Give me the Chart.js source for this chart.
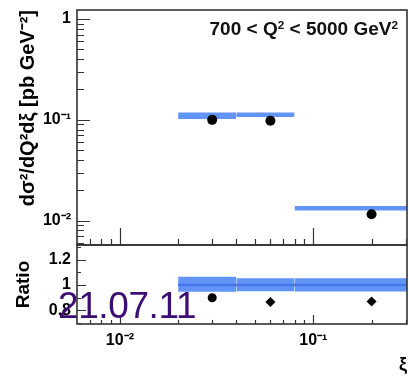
<!DOCTYPE html>
<html>
<head>
<meta charset="utf-8">
<script src="https://cdn.jsdelivr.net/npm/chart.js@4/dist/chart.umd.min.js"></script>
<style>
  html, body { margin: 0; padding: 0; background: #fff; }
  #wrap { position: relative; width: 409px; height: 376px; overflow: hidden; font-family: "Liberation Sans", Arial, sans-serif; }
  #c_top { position: absolute; left: 0; top: 0; width: 409px; height: 246px; }
  #c_ratio { position: absolute; left: 0; top: 244px; width: 409px; height: 132px; }
  .lbl { position: absolute; white-space: nowrap; line-height: 1; }
  .lbl sup { font-size: 0.62em; line-height: 0; vertical-align: 0.55em; }
  #q2_range { right: 11px; top: 19px; font-size: 19px; font-weight: bold; color: #111; }
  #stamp { left: 58px; top: 287px; font-size: 37px; letter-spacing: -0.4px; color: #3c0d73; }
</style>
</head>
<body>
<div id="wrap">
  <canvas id="c_top" width="409" height="246"></canvas>
  <canvas id="c_ratio" width="409" height="132"></canvas>
  <div class="lbl" id="q2_range">700 &lt; Q<sup>2</sup> &lt; 5000 GeV<sup>2</sup></div>
  <div class="lbl" id="stamp">21.07.11</div>
</div>
<script>
// xi bins
const xi_lo = [0.02, 0.04, 0.08];
const xi_hi = [0.04, 0.08, 0.305];
const xi_mid = [0.03, 0.06, 0.2];

// cross section: data points and theory band
const xsec_data = [0.1, 0.098, 0.0116];
const xsec_theo_lo = [0.102, 0.107, 0.0126];
const xsec_theo_hi = [0.118, 0.118, 0.0140];

// ratio panel
const ratio_data = [0.90, 0.867, 0.87];
const ratio_theo_lo = [0.947, 0.952, 0.95];
const ratio_theo_hi = [1.065, 1.053, 1.053];
const ratio_theo_mid = [1, 1, 1];

// tick labels
const x_ticks = [0.01, 0.1];
const x_tick_labels = ['10⁻²', '10⁻¹'];
const y_ticks = [0.01, 0.1, 1];
const y_tick_labels = ['10⁻²', '10⁻¹', '1'];
const r_ticks = [0.8, 1, 1.2];
const r_tick_labels = ['0.8', '1', '1.2'];
const r_minor = [0.7, 0.9, 1.1, 1.3];

const band_col = 'rgb(98,148,246)';
const band_line = 'rgb(70,118,236)';
const tick_font = {family: '"Liberation Sans", Arial, sans-serif', size: 16, weight: 'bold'};

Chart.defaults.color = '#000';
Chart.defaults.font.family = '"Liberation Sans", Arial, sans-serif';

function logMinor(lo, hi) {
    let out = [];
    for (let d = 0.001; d < 10; d *= 10) {
        for (let k = 2; k <= 9; k++) {
            let v = d * k;
            if (v > lo && v < hi) out.push(v);
        }
    }
    return out;
}

// fixed box sizes so both panels line up
function fixWidth(s) {
    s.width = 77;
    s.paddingTop = 0; s.paddingBottom = 0;
}
function fixHeight(s) {
    s.height = 52;
    s.paddingLeft = 0; s.paddingRight = 0;
}

// ROOT-like frame with ticks pointing inwards
const rootFrame = {
    id: 'rootFrame',
    afterDatasetsDraw(chart, args, opts) {
        const ctx = chart.ctx;
        const a = chart.chartArea;
        const sx = chart.scales.x, sy = chart.scales.y;
        ctx.save();
        ctx.strokeStyle = '#333';
        ctx.lineWidth = 1.2;
        ctx.beginPath();
        const xt = (vals, len) => {
            for (const v of vals) {
                let px = Math.round(sx.getPixelForValue(v)) + 0.5;
                ctx.moveTo(px, a.bottom);
                ctx.lineTo(px, a.bottom - len);
            }
        };
        const yt = (vals, len) => {
            for (const v of vals) {
                let py = Math.round(sy.getPixelForValue(v)) + 0.5;
                ctx.moveTo(a.left, py);
                ctx.lineTo(a.left + len, py);
            }
        };
        xt(opts.xMajor, opts.xLen[0]);
        xt(opts.xMinor, opts.xLen[1]);
        yt(opts.yMajor, opts.yLen[0]);
        yt(opts.yMinor, opts.yLen[1]);
        ctx.stroke();
        ctx.lineWidth = 1.6;
        ctx.strokeRect(a.left, a.top, a.right - a.left, a.bottom - a.top);
        ctx.restore();
    }
};

function bandSets(yLo, yHi, colour) {
    let sets = [];
    for (let i = 0; i < xi_lo.length; i++) {
        sets.push({
            data: [{x: xi_lo[i], y: yLo[i]}, {x: xi_hi[i], y: yLo[i]}],
            borderWidth: 0, pointRadius: 0, fill: false, order: 3
        });
        sets.push({
            data: [{x: xi_lo[i], y: yHi[i]}, {x: xi_hi[i], y: yHi[i]}],
            borderWidth: 0, pointRadius: 0, fill: '-1', backgroundColor: colour, order: 3
        });
    }
    return sets;
}

const xMinor = logMinor(0.006, 0.305);

// upper panel
var top_chart = new Chart(document.getElementById('c_top'), {
    type: 'line',
    data: {
        datasets: bandSets(xsec_theo_lo, xsec_theo_hi, band_col).concat([{
            data: xi_mid.map((x, i) => ({x: x, y: xsec_data[i]})),
            showLine: false,
            pointRadius: 5,
            pointBackgroundColor: '#000',
            pointBorderColor: '#000',
            pointBorderWidth: 0,
            order: 0
        }])
    },
    options: {
        responsive: false,
        animation: false,
        layout: {autoPadding: false, padding: {top: 10, right: 2, bottom: 1, left: 0}},
        plugins: {
            legend: {display: false},
            tooltip: {enabled: false},
            rootFrame: {
                xMajor: x_ticks, xMinor: xMinor, xLen: [17, 6],
                yMajor: y_ticks, yMinor: logMinor(0.00574, 1.228), yLen: [13, 7]
            }
        },
        scales: {
            x: {type: 'logarithmic', min: 0.006, max: 0.305, display: false},
            y: {
                type: 'logarithmic', min: 0.00574, max: 1.228,
                afterFit: fixWidth,
                afterBuildTicks: s => { s.ticks = y_ticks.map(v => ({value: v})); },
                grid: {display: false, drawTicks: false},
                border: {display: false},
                ticks: {
                    autoSkip: false, padding: 6, font: tick_font,
                    callback: v => y_tick_labels[y_ticks.indexOf(v)]
                },
                title: {
                    display: true, text: 'dσ²/dQ²dξ [pb GeV⁻²]', align: 'end',
                    font: {size: 20, weight: 'bold'}, padding: {top: 16, bottom: 0}
                }
            }
        }
    },
    plugins: [rootFrame]
});

// ratio panel
var ratio_chart = new Chart(document.getElementById('c_ratio'), {
    type: 'line',
    data: {
        datasets: bandSets(ratio_theo_lo, ratio_theo_hi, band_col).concat([{
            data: [{x: xi_lo[0], y: ratio_theo_mid[0]}].concat(xi_hi.map((x, i) => ({x: x, y: ratio_theo_mid[i]}))),
            borderColor: band_line,
            borderWidth: 2.5,
            pointRadius: 0,
            fill: false,
            order: 1
        }, {
            data: xi_mid.map((x, i) => ({x: x, y: ratio_data[i]})),
            showLine: false,
            pointStyle: ['circle', 'rectRot', 'rectRot'],
            pointRadius: [4.5, 5, 5],
            pointBackgroundColor: '#000',
            pointBorderColor: '#000',
            pointBorderWidth: 0,
            order: 0
        }])
    },
    options: {
        responsive: false,
        animation: false,
        layout: {autoPadding: false, padding: {top: 1, right: 2, bottom: 0, left: 0}},
        plugins: {
            legend: {display: false},
            tooltip: {enabled: false},
            rootFrame: {
                xMajor: x_ticks, xMinor: xMinor, xLen: [9, 4],
                yMajor: r_ticks, yMinor: r_minor, yLen: [9, 4]
            }
        },
        scales: {
            x: {
                type: 'logarithmic', min: 0.006, max: 0.305,
                afterFit: fixHeight,
                afterBuildTicks: s => { s.ticks = x_ticks.map(v => ({value: v})); },
                grid: {display: false, drawTicks: false},
                border: {display: false},
                ticks: {
                    autoSkip: false, maxRotation: 0, padding: 7, font: tick_font,
                    callback: v => x_tick_labels[x_ticks.indexOf(v)]
                },
                title: {
                    display: true, text: 'ξ', align: 'end',
                    font: {size: 18, weight: 'bold'}, padding: {top: 0, bottom: 0}
                }
            },
            y: {
                type: 'linear', min: 0.694, max: 1.314,
                afterFit: fixWidth,
                afterBuildTicks: s => { s.ticks = r_ticks.map(v => ({value: v})); },
                grid: {display: false, drawTicks: false},
                border: {display: false},
                ticks: {
                    autoSkip: false, padding: 6, font: tick_font,
                    callback: v => r_tick_labels[r_ticks.indexOf(v)]
                },
                title: {
                    display: true, text: 'Ratio',
                    font: {size: 19, weight: 'bold'}, padding: {top: 12, bottom: 0}
                }
            }
        }
    },
    plugins: [rootFrame]
});
</script>
</body>
</html>
